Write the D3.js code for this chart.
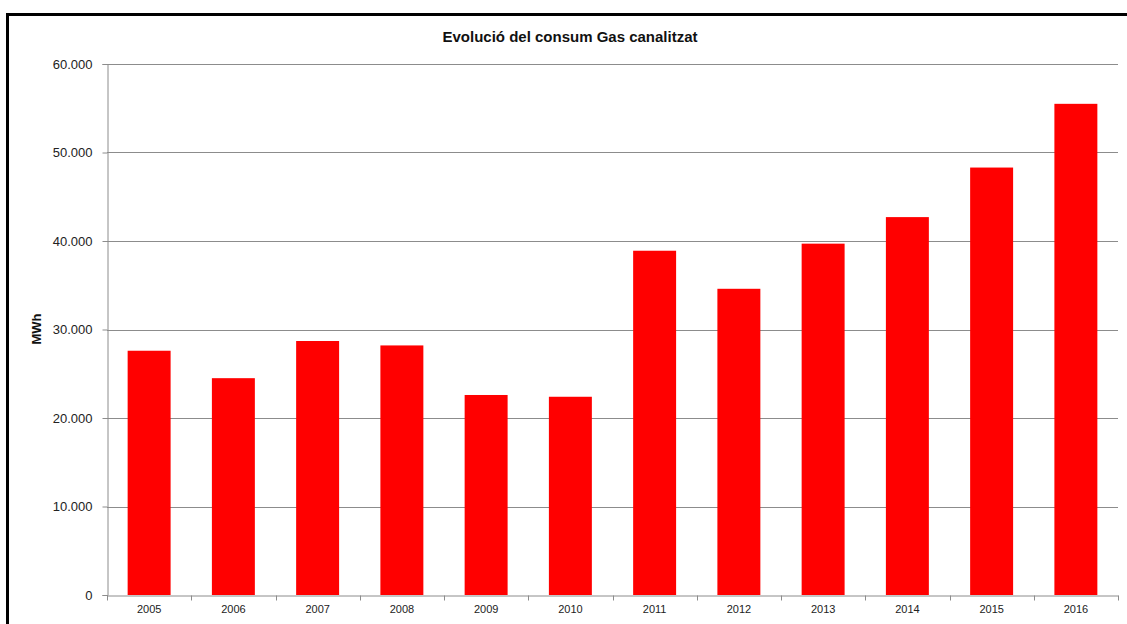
<!DOCTYPE html>
<html>
<head>
<meta charset="utf-8">
<script src="https://cdn.jsdelivr.net/npm/d3@7"></script>
<style>
  html, body { margin: 0; padding: 0; background: #fff; }
  svg { display: block; font-family: "Liberation Sans", Arial, sans-serif; }
</style>
</head>
<body>
<svg id="chart" width="1127" height="624"></svg>
<script>
const title = "Evolució del consum Gas canalitzat";
const yAxisLabel = "MWh";
const years = ["2005","2006","2007","2008","2009","2010","2011","2012","2013","2014","2015","2016"];
const consumption = [27600, 24500, 28700, 28200, 22600, 22400, 38900, 34600, 39700, 42700, 48300, 55500];
const yTicks = [0, 10000, 20000, 30000, 40000, 50000, 60000];

const svg = d3.select("#chart");
const W = 1127, H = 624;
const margin = { left: 107, right: W - 1118, top: 64, bottom: H - 595 };

// outer border
svg.append("rect")
  .attr("x", 7.5).attr("y", 14.5)
  .attr("width", W + 10).attr("height", H + 10)
  .attr("fill", "#fff").attr("stroke", "#000").attr("stroke-width", 3);

const x = d3.scaleBand().domain(years)
  .range([margin.left, W - margin.right]).paddingInner(0.49).paddingOuter(0.245);
const xb = d3.scaleBand().domain(years).range([margin.left, W - margin.right]);
const y = d3.scaleLinear().domain([0, 60000]).range([H - margin.bottom, margin.top]);

const fmt = v => d3.format(",")(v).replace(/,/g, ".");

// gridlines
svg.append("g").selectAll("line").data(yTicks.filter(d => d > 0)).join("line")
  .attr("x1", margin.left).attr("x2", W - margin.right)
  .attr("y1", d => Math.round(y(d)) + 0.5).attr("y2", d => Math.round(y(d)) + 0.5)
  .attr("stroke", "#8c8c8c").attr("stroke-width", 1);

// bars
svg.append("g").selectAll("rect").data(years).join("rect")
  .attr("x", d => x(d)).attr("width", x.bandwidth())
  .attr("y", (d, i) => y(consumption[i]))
  .attr("height", (d, i) => y(0) - y(consumption[i]))
  .attr("fill", "#ff0000");

// y axis
const yAxis = svg.append("g").attr("transform", `translate(${margin.left + 0.5},0)`)
  .call(d3.axisLeft(y).tickValues(yTicks).tickFormat(fmt).tickSize(5).tickPadding(10));
yAxis.select(".domain").attr("stroke", "#8c8c8c");
yAxis.selectAll(".tick line").attr("stroke", "#8c8c8c");
yAxis.selectAll(".tick text").attr("font-size", 13).attr("fill", "#222")
  .attr("font-family", "'Liberation Sans', Arial, sans-serif");

// x axis
const xAxis = svg.append("g").attr("transform", `translate(0,${Math.round(y(0)) + 0.5})`)
  .call(d3.axisBottom(xb).tickSize(0).tickPadding(10));
xAxis.select(".domain").attr("stroke", "#8c8c8c");
xAxis.selectAll(".tick text").attr("font-size", 11).attr("fill", "#222")
  .attr("font-family", "'Liberation Sans', Arial, sans-serif");
// category separator ticks
const bounds = years.map(d => xb(d)).concat([W - margin.right]);
xAxis.append("g").selectAll("line").data(bounds).join("line")
  .attr("x1", d => Math.round(d) + 0.5).attr("x2", d => Math.round(d) + 0.5)
  .attr("y1", 0).attr("y2", 5).attr("stroke", "#8c8c8c");

// title
svg.append("text").attr("x", 570).attr("y", 42)
  .attr("text-anchor", "middle").attr("font-size", 15).attr("font-weight", "bold")
  .attr("fill", "#111").text(title);

// y label
svg.append("text").attr("transform", "translate(41,329) rotate(-90)")
  .attr("text-anchor", "middle").attr("font-size", 13).attr("font-weight", "bold")
  .attr("fill", "#111").text(yAxisLabel);
</script>
</body>
</html>
